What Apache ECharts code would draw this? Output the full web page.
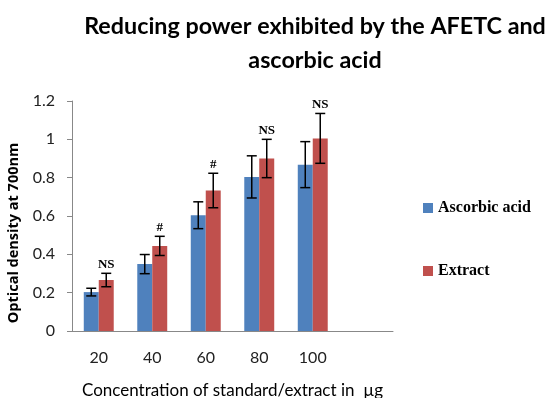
<!DOCTYPE html>
<html><head><meta charset="utf-8">
<script src="https://cdn.jsdelivr.net/npm/echarts@6/dist/echarts.min.js"></script>
<style>html,body{margin:0;padding:0;background:#fff}#c{width:545px;height:398px}</style>
</head><body><div id="c"></div>
<script>
const categories = ['20','40','60','80','100',''];
const ascorbic = [0.203, 0.349, 0.604, 0.804, 0.868];
const ascorbicErr = [0.02, 0.05, 0.07, 0.11, 0.12];
const extract = [0.266, 0.444, 0.733, 0.90, 1.005];
const extractErr = [0.035, 0.05, 0.09, 0.10, 0.13];
const annotations = ['NS', '#', '#', 'NS', 'NS'];
const yTicks = [0, 0.2, 0.4, 0.6, 0.8, 1, 1.2];

const BAR_FRAC = 0.28;
function errSeries(vals, errs, side) {
  return {
    type: 'custom', z: 5, silent: true,
    data: vals.map((v, i) => [i, v, errs[i]]),
    renderItem: function (params, api) {
      const i = api.value(0), v = api.value(1), e = api.value(2);
      const band = api.size([1, 0])[0];
      const bw = band * BAR_FRAC;
      const c = api.coord([i, v]);
      const x = c[0] + side * bw / 2;
      const yt = api.coord([i, v + e])[1];
      const yb = api.coord([i, v - e])[1];
      const cap = 5;
      const st = { stroke: '#000', lineWidth: 1.5 };
      return { type: 'group', children: [
        { type: 'line', shape: { x1: x, y1: yt, x2: x, y2: yb }, style: st },
        { type: 'line', shape: { x1: x - cap, y1: yt, x2: x + cap, y2: yt }, style: st },
        { type: 'line', shape: { x1: x - cap, y1: yb, x2: x + cap, y2: yb }, style: st }
      ]};
    }
  };
}

const chart = echarts.init(document.getElementById('c'));
chart.setOption({
  animation: false,
  title: {
    text: 'Reducing power exhibited by the AFETC and\nascorbic acid',
    left: 310, top: 4, textAlign: 'center',
    textStyle: { fontFamily: 'Lato', fontWeight: 'bold', fontSize: 23.3, lineHeight: 34, color: '#000' }
  },
  legend: {
    orient: 'vertical', left: 423, top: 200, itemGap: 47, padding: 0,
    itemWidth: 10, itemHeight: 10, icon: 'rect',
    data: ['Ascorbic acid', 'Extract'],
    textStyle: { fontFamily: 'Liberation Serif', fontWeight: 'bold', fontSize: 16, color: '#000' }
  },
  grid: { left: 72, right: 152, top: 101, bottom: 67, outerBoundsMode: 'none', containLabel: false },
  xAxis: {
    type: 'category', data: categories,
    name: 'Concentration of standard/extract in  µg', nameLocation: 'middle', nameGap: 51,
    nameTextStyle: { fontFamily: 'Lato', fontSize: 17, color: '#000' },
    axisTick: { show: false },
    axisLine: { lineStyle: { color: '#888' } },
    axisLabel: { margin: 19, fontFamily: 'Lato', fontSize: 16, color: '#222' }
  },
  yAxis: {
    type: 'value', min: 0, max: 1.2, interval: 0.2,
    name: 'Optical density at 700nm', nameLocation: 'middle', nameGap: 44,
    nameTextStyle: { fontFamily: 'Open Sans', fontWeight: 'bold', fontSize: 14.5, color: '#000',
      padding: [0, 34, 0, 0] },
    splitLine: { show: false },
    axisLine: { show: true, lineStyle: { color: '#888' } },
    axisTick: { show: true, length: 5, lineStyle: { color: '#888' } },
    axisLabel: { margin: 17, fontFamily: 'Lato', fontSize: 16, color: '#222',
      formatter: v => { const t = yTicks.find(x => Math.abs(x - v) < 1e-9); return String(t !== undefined ? t : v); } }
  },
  series: [
    { name: 'Ascorbic acid', type: 'bar', data: ascorbic, barWidth: (BAR_FRAC * 100) + '%', barGap: '0%',
      itemStyle: { color: '#4F81BD' } },
    { name: 'Extract', type: 'bar', data: extract, barWidth: (BAR_FRAC * 100) + '%', barGap: '0%',
      itemStyle: { color: '#C0504D' } },
    errSeries(ascorbic, ascorbicErr, -1),
    errSeries(extract, extractErr, 1),
    {
      type: 'custom', z: 6, silent: true,
      data: extract.map((v, i) => [i, v + extractErr[i], annotations[i]]),
      renderItem: function (params, api) {
        const i = api.value(0), top = api.value(1);
        const band = api.size([1, 0])[0];
        const bw = band * BAR_FRAC;
        const c = api.coord([i, top]);
        return { type: 'text', style: {
          x: c[0] + bw / 2, y: c[1] - 2, text: annotations[i],
          textAlign: 'center', textVerticalAlign: 'bottom',
          fontFamily: 'Liberation Serif', fontWeight: 'bold', fontSize: 13, fill: '#000'
        }};
      }
    }
  ]
});
</script></body></html>
